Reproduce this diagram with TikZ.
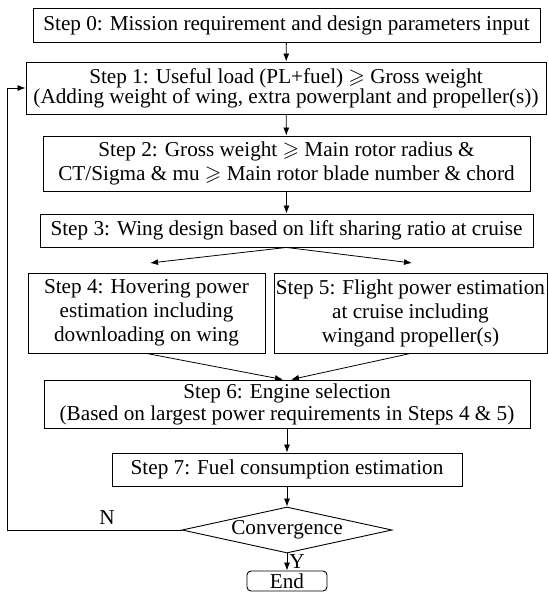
\documentclass[tikz,border=0pt]{standalone}
\usepackage{amssymb}
\usepackage{fontspec}
\setmainfont{Liberation Serif}
\usetikzlibrary{arrows.meta,shapes.geometric}

\tikzset{
  stepbox/.style={draw, line width=0.9pt, inner sep=0pt, align=center,
    font=\fontsize{21.2}{22}\selectfont},
  flow/.style={-{Latex[length=8pt,width=6pt]}, line width=0.8pt},
  lbl/.style={font=\fontsize{21.2}{22}\selectfont, inner sep=0pt},
}

\begin{document}
\begin{tikzpicture}[x=1pt,y=-1pt]
  \useasboundingbox (0,0) rectangle (548,592);

  % Step boxes
  \node[stepbox, minimum width=507pt, minimum height=34pt] (s0) at (286.5,25)
    {Step 0: Mission requirement and design parameters input};
  \node[stepbox, minimum width=520pt, minimum height=52pt,
    font=\fontsize{21.2}{20}\selectfont] (s1) at (286,88)
    {Step 1: Useful load (PL+fuel) $\geqslant$ Gross weight\\
     (Adding weight of wing, extra powerplant and propeller(s))};
  \node[stepbox, minimum width=487pt, minimum height=55pt,
    font=\fontsize{21.2}{24}\selectfont] (s2) at (286.5,163.5)
    {Step 2: Gross weight $\geqslant$ Main rotor radius \&\\
     CT/Sigma \& mu $\geqslant$ Main rotor blade number \& chord};
  \node[stepbox, minimum width=493pt, minimum height=33pt] (s3) at (286.5,230.5)
    {Step 3: Wing design based on lift sharing ratio at cruise};

  % Two parallel power estimates
  \node[stepbox, minimum width=237pt, minimum height=80pt,
    font=\fontsize{21.2}{24}\selectfont] (s4) at (146.5,313)
    {Step 4: Hovering power\\ estimation including\\ downloading on wing};
  \node[stepbox, minimum width=273pt, minimum height=80pt,
    font=\fontsize{21.2}{24}\selectfont] (s5) at (410.5,313)
    {Step 5: Flight power estimation\\ at cruise including\\ wingand propeller(s)};

  \node[stepbox, minimum width=486pt, minimum height=48pt] (s6) at (287,404)
    {Step 6: Engine selection\\
     (Based on largest power requirements in Steps 4 \& 5)};
  \node[stepbox, minimum width=350pt, minimum height=33pt] (s7) at (287,469.5)
    {Step 7: Fuel consumption estimation};

  % Decision and end
  \node[draw, diamond, line width=0.9pt, inner sep=0pt, aspect=4.5,
    minimum width=210pt, minimum height=46pt, lbl] (conv) at (287,530) {Convergence};
  \node[draw, line width=0.9pt, rounded corners=4pt, minimum width=80pt,
    lbl, text height=14pt, text depth=0pt, inner ysep=3pt] (fin) at (287,581) {End};

  % Arrows
  \draw[flow] (s0) -- (s1);
  \draw[flow] (s1) -- (s2);
  \draw[flow] (s2) -- (s3);
  \coordinate (t4) at (150,263);
  \coordinate (t5) at (412,263);
  \draw[flow] (s3.south) -- (t4);
  \draw[flow] (s3.south) -- (t5);
  \draw[flow] (s4.south) -- ([xshift=-4pt]s6.north);
  \draw[flow] (s5.south) -- ([xshift=4pt]s6.north);
  \draw[flow] (s6) -- (s7);
  \draw[flow] (s7) -- (conv);
  \draw[flow] (conv) -- (fin) node[lbl, midway, right=2pt] {Y};

  % Loop back when not converged
  \coordinate (back) at (7,530);
  \draw[flow] (conv.west) -- (back) |- (s1.west);
  \node[lbl] (nlbl) at (107,518) {N};
\end{tikzpicture}
\end{document}
